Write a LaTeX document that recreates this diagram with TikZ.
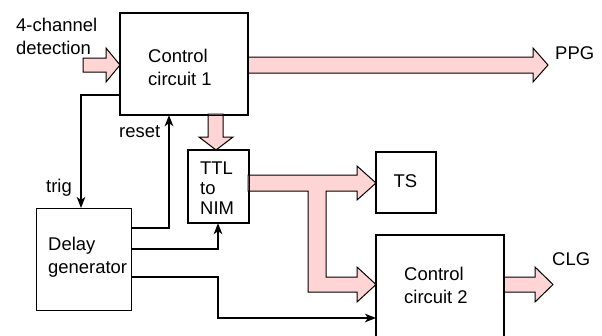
\documentclass[tikz,border=0pt]{standalone}
\usepackage{fontspec}
\setmainfont{Liberation Sans}
\usetikzlibrary{arrows.meta,calc}
\definecolor{pinkfill}{HTML}{FFD4D4}
\begin{document}
\begin{tikzpicture}[x=1bp,y=-1bp,
  box/.style={draw=black,line width=1.1bp,fill=white,inner sep=0pt,anchor=north west},
  txt/.style={font=\fontsize{18.5}{23}\selectfont,align=left,inner sep=0pt,anchor=base west},
  fat/.style={draw=black,line width=1bp,fill=pinkfill,line join=miter},
  wire/.style={draw=black,line width=1.8bp,line join=miter,-{Stealth[length=11bp,width=8.5bp,inset=3bp]}},
]
\clip (0,0) rectangle (602,335);
% boxes
\node[box,minimum width=127bp,minimum height=101bp] (cc1) at (120,13) {};
\node[box,minimum width=60bp,minimum height=72bp] (ttl) at (188,150) {};
\node[box,minimum width=59bp,minimum height=60bp] (ts) at (376,152) {};
\node[box,minimum width=127bp,minimum height=120bp] (cc2) at (376,235) {};
\node[box,minimum width=95bp,minimum height=102bp] (dg) at (36,208) {};
% fat arrows
\path[fat] (83,58) -- (106,58) -- (106,48) -- (cc1.west |- 0,65) -- (106,82) -- (106,72) -- (83,72) -- cycle;
\path[fat] (cc1.east |- 0,57) -- (533,57) -- (533,48) -- (548,65) -- (533,82) -- (533,73) -- (cc1.east |- 0,73) -- cycle;
\path[fat] (208,114) -- (208,137) -- (199,137) -- (216,150) -- (233,137) -- (223,137) -- (223,114) -- cycle;
\path[fat] (248,175) -- (357,175) -- (357,166) -- (ts.west |- 0,183) -- (357,200) -- (357,191)
  -- (326,191) -- (326,277) -- (357,277) -- (357,267) -- (cc2.west |- 0,284.5) -- (357,302) -- (357,292)
  -- (308,292) -- (308,191) -- (248,191) -- cycle;
\path[fat] (cc2.east |- 0,277) -- (535,277) -- (535,267) -- (553,284.5) -- (535,302) -- (535,292) -- (cc2.east |- 0,292) -- cycle;
\draw[line width=1.1bp] (cc1.north west) rectangle (cc1.south east);
\draw[line width=1.1bp] (ttl.north west) rectangle (ttl.south east);
\draw[line width=1.1bp] (ts.north west) rectangle (ts.south east);
\draw[line width=1.1bp] (cc2.north west) rectangle (cc2.south east);
% texts (base anchor = baseline of the last line)
\node[txt] (cc1t) at (148,85) {Control\\circuit 1};
\node[txt] (cc2t) at (404,303) {Control\\circuit 2};
\node[txt] (dgt) at (48,273) {Delay\\generator};
\node[txt,font=\fontsize{18.5}{20}\selectfont] (ttlt) at (200,214) {TTL\\to\\NIM};
\node[txt,anchor=base] (tst) at (405.5,187) {TS};
\node[txt] (in) at (16,54) {4-channel\\detection};
\node[txt] (ppg) at (555,59) {PPG};
\node[txt] (clg) at (552,265) {CLG};
\node[txt,anchor=base east] (trig) at (72,192) {trig};
\node[txt] (reset) at (119,137) {reset};
% wires
\coordinate (t1) at (81,95);
\draw[wire] (cc1.west |- t1) -- (t1) -- (t1 |- dg.north);
\coordinate (r1) at (169,228);
\draw[wire] (dg.east |- r1) -- (r1) -- (r1 |- cc1.south);
\coordinate (n1) at (218,249);
\draw[wire] (dg.east |- n1) -- (n1) -- (n1 |- ttl.south);
\coordinate (c1) at (218,277);
\coordinate (c2) at (218,318);
\draw[wire] (dg.east |- c1) -- (c1) -- (c2) -- (c2 -| cc2.west);
\end{tikzpicture}
\end{document}
